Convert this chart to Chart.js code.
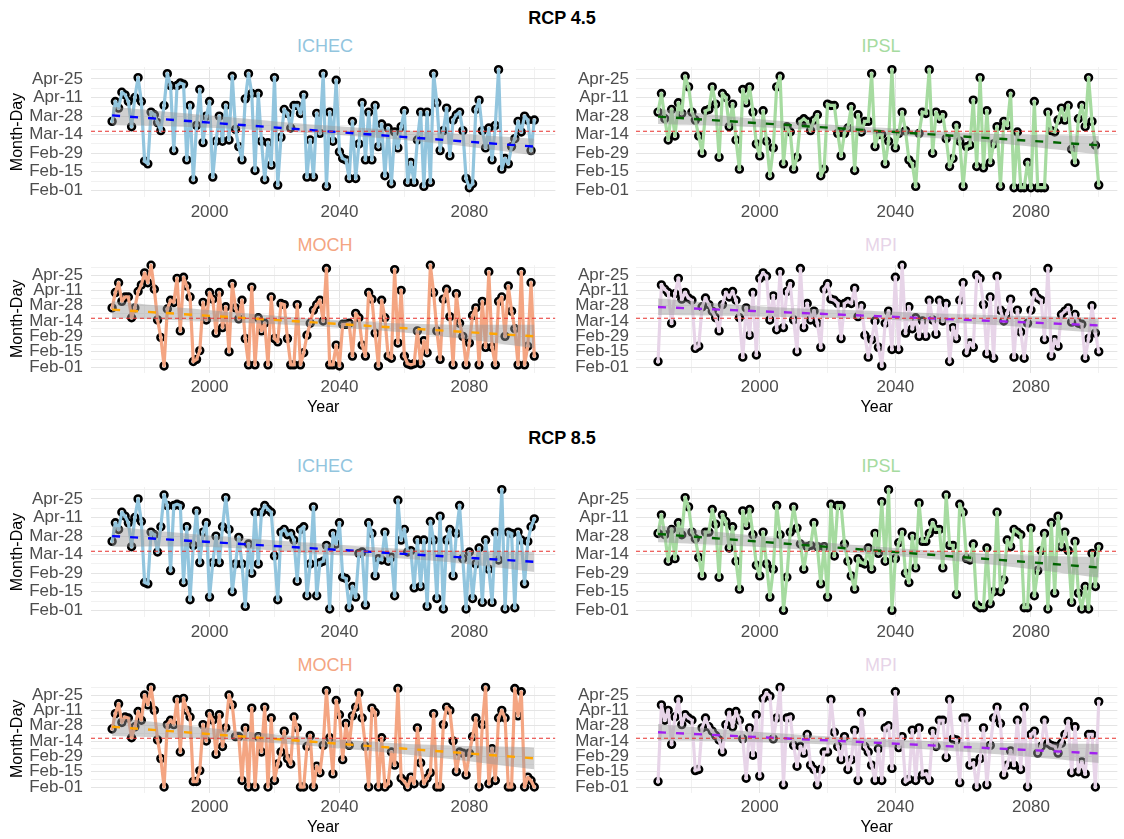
<!DOCTYPE html>
<html><head><meta charset="utf-8">
<script src="https://cdn.jsdelivr.net/npm/chart.js@4.4.0/dist/chart.umd.min.js"></script>
<style>
html,body{margin:0;padding:0;background:#fff;}
body{width:1124px;height:839px;position:relative;overflow:hidden;font-family:"Liberation Sans",Arial,sans-serif;}
.t{position:absolute;transform:translate(-50%,-50%);white-space:nowrap;line-height:1;}
canvas{position:absolute;}
</style></head><body>
<script>
// ---------- data ----------
const years = [1970,1971,1972,1973,1974,1975,1976,1977,1978,1979,1980,1981,1982,1983,1984,1985,1986,1987,1988,1989,1990,1991,1992,1993,1994,1995,1996,1997,1998,1999,2000,2001,2002,2003,2004,2005,2006,2007,2008,2009,2010,2011,2012,2013,2014,2015,2016,2017,2018,2019,2020,2021,2022,2023,2024,2025,2026,2027,2028,2029,2030,2031,2032,2033,2034,2035,2036,2037,2038,2039,2040,2041,2042,2043,2044,2045,2046,2047,2048,2049,2050,2051,2052,2053,2054,2055,2056,2057,2058,2059,2060,2061,2062,2063,2064,2065,2066,2067,2068,2069,2070,2071,2072,2073,2074,2075,2076,2077,2078,2079,2080,2081,2082,2083,2084,2085,2086,2087,2088,2089,2090,2091,2092,2093,2094,2095,2096,2097,2098,2099,2100];

// day-of-year values (Feb-01 = 32)
const ichec45 = [84,99,94,106,104,99,80,102,117,99,54,52,91,89,83,77,96,120,111,62,111,113,112,55,96,40,81,108,68,88,99,42,69,88,69,96,70,118,78,65,55,101,120,105,47,105,69,40,68,51,117,36,72,93,90,79,96,96,90,104,42,70,42,90,75,120,35,91,69,115,61,56,55,41,84,41,67,98,55,91,55,96,65,82,43,79,37,76,64,80,92,38,53,38,70,91,35,91,38,120,98,62,77,94,58,85,89,91,77,41,34,37,93,100,77,64,79,55,81,123,48,56,52,65,71,84,76,88,85,62,85];
const ipsl45 = [91,105,86,70,93,73,98,90,118,110,91,85,73,60,92,93,110,97,57,105,102,80,97,70,48,108,98,110,91,67,58,92,69,43,64,110,118,52,80,76,48,57,84,86,84,77,85,89,43,48,97,96,96,75,58,75,79,95,47,89,76,84,84,120,65,74,74,52,69,123,64,75,91,77,55,52,35,75,91,90,123,60,91,86,89,71,50,56,81,69,35,65,66,100,50,117,49,92,53,67,80,35,84,81,105,34,76,34,34,53,34,99,34,34,34,91,77,76,85,94,85,96,63,53,86,96,80,117,84,66,36];
const moch45 = [86,100,109,92,96,96,77,86,101,107,118,109,125,103,75,59,33,85,93,91,113,65,114,106,96,37,39,47,91,75,100,94,63,100,68,87,46,108,86,76,93,58,34,105,34,77,65,72,34,96,58,55,90,89,58,34,34,89,34,45,61,72,84,89,93,74,122,34,34,52,33,71,71,72,42,81,77,52,42,100,94,63,33,93,77,42,40,121,54,102,42,35,34,35,65,35,56,45,125,100,65,39,94,103,78,34,99,72,60,34,54,79,86,34,92,50,119,50,34,92,96,60,106,83,67,34,119,34,51,109,42];
const mpi45 = [37,107,103,100,72,99,113,94,100,95,93,49,51,87,95,89,83,77,65,89,100,96,101,93,77,41,86,61,100,43,113,118,115,75,97,66,119,68,101,108,75,46,122,68,90,75,83,72,50,103,108,94,93,90,58,90,92,90,104,78,88,61,41,57,74,50,33,72,83,48,114,48,125,63,87,67,77,60,74,60,93,75,62,93,74,90,37,68,58,93,109,45,54,50,116,113,89,44,96,40,115,84,74,81,94,41,84,64,40,72,84,100,95,93,57,122,42,57,51,80,83,86,73,80,72,71,40,58,88,63,46];
const ichec85 = [84,98,93,106,103,98,80,102,116,99,53,52,91,89,76,95,119,111,62,111,112,111,53,95,40,81,107,68,91,98,42,68,88,68,95,117,93,46,67,87,67,35,82,60,106,67,106,111,108,106,73,40,91,93,89,90,85,54,93,95,43,67,110,43,68,69,81,33,90,82,98,57,56,34,50,42,75,76,36,98,90,58,71,70,91,69,72,43,115,85,93,76,77,49,85,50,85,35,99,85,41,103,33,85,93,58,90,111,71,33,76,41,67,79,38,85,63,38,91,70,123,33,91,90,34,91,85,52,84,95,101];
const ipsl85 = [90,104,89,69,93,71,98,89,117,110,91,86,72,58,91,91,108,97,57,104,99,79,95,69,48,107,96,108,89,66,58,91,67,42,63,111,89,32,57,91,110,94,82,63,80,81,98,80,52,80,42,112,73,111,111,82,69,58,48,71,68,67,79,63,90,75,114,69,123,32,71,83,91,60,53,88,64,113,84,84,90,98,93,93,64,119,81,81,44,112,106,71,70,82,36,34,34,79,37,46,106,46,55,85,80,93,91,89,34,34,94,43,62,77,90,33,98,45,103,80,91,77,38,84,45,33,50,33,75,50,80];
const moch85 = [85,99,108,91,96,95,77,87,101,93,116,107,123,102,75,58,32,89,93,89,112,64,113,102,96,37,37,47,89,74,99,93,62,98,69,86,116,107,78,78,38,86,32,104,32,78,64,105,32,95,38,53,64,83,58,53,96,86,32,32,69,79,32,51,45,70,120,77,44,111,98,57,90,70,97,105,118,95,69,32,104,100,32,77,32,35,64,52,122,40,37,32,41,35,86,54,35,40,45,99,32,32,89,105,102,74,46,64,63,43,63,78,95,32,89,123,35,67,38,95,102,95,32,32,122,97,119,32,41,38,32];
const mpi85 = [37,107,93,102,71,96,112,89,98,95,93,47,48,86,95,87,83,79,75,64,89,100,87,101,93,76,40,86,61,98,42,113,118,115,76,95,123,34,95,96,70,51,69,63,80,52,48,34,48,64,64,112,82,69,57,78,48,57,84,38,100,69,64,52,38,67,38,86,88,49,119,68,78,37,39,84,38,86,43,44,38,83,69,93,93,59,112,76,75,36,95,95,52,54,32,58,86,34,70,95,105,90,43,52,65,52,93,48,105,32,80,83,63,69,93,72,70,69,63,72,80,92,45,87,46,55,44,80,80,32,110];

// linear trend end values (at trendYears) and confidence band (at bandYears)
const trendYears = [1970, 2100];
const bandYears = [1970, 2002, 2035, 2068, 2100];
const trendIchec45 = [88.5, 65];   const lowIchec45 = [81.5, 79, 74.5, 68, 58.5];   const highIchec45 = [95, 88, 81, 76, 71];
const trendIpsl45  = [87.6, 66];   const lowIpsl45  = [82, 79.3, 74.3, 68, 59];     const highIpsl45  = [93.3, 85.3, 79.3, 74.6, 73];
const trendMoch45  = [84.4, 60];   const lowMoch45  = [76.8, 73.4, 68.7, 61.1, 49.4]; const highMoch45 = [92, 83.4, 75.7, 71.1, 70.6];
const trendMpi45   = [86.8, 70];   const lowMpi45   = [79.5, 78, 75.5, 70.5, 63];   const highMpi45   = [94.5, 87, 83, 79.5, 77];
const trendIchec85 = [88, 68.6];   const lowIchec85 = [80, 79.5, 74.3, 69.5, 61];   const highIchec85 = [95.2, 88, 82.3, 77.5, 76.2];
const trendIpsl85  = [89.6, 64.3]; const lowIpsl85  = [83.3, 79.4, 74, 66.6, 56.7]; const highIpsl85  = [95.9, 87.4, 80, 74.6, 71.9];
const trendMoch85  = [87, 58.2];   const lowMoch85  = [78.6, 75.3, 68.6, 59.5, 48.2]; const highMoch85 = [95.4, 85.3, 76.6, 70.5, 68.2];
const trendMpi85   = [82, 62.7];   const lowMpi85   = [74.4, 72.7, 68.8, 62.4, 54]; const highMpi85   = [89.6, 81.7, 75.8, 72.4, 71.4];

const referenceDay = 76.6;

// ticks
const yTickValues = [32,39,46,53,60,67,74,81,88,95,102,109,116,123];
const yTickLabels = {32:'Feb-01',46:'Feb-15',60:'Feb-29',74:'Mar-14',88:'Mar-28',102:'Apr-11',116:'Apr-25'};
const xTickValues = [1980,2000,2020,2040,2060,2080,2100];
const xTickLabels = {2000:'2000',2040:'2040',2080:'2080'};

const scenarioTitles = ['RCP 4.5', 'RCP 8.5'];
const modelNames = ['ICHEC','IPSL','MOCH','MPI'];
const modelColors = ['#92C5DE','#A6DBA0','#F4A582','#E7D4E8'];
const trendColors = ['#0000FF','#006400','#FFA500','#A020F0'];

// ---------- layout ----------
const FONT = '"Liberation Sans", Arial, sans-serif';
Chart.defaults.font.family = FONT;

function addText(txt, x, y, size, color, bold) {
  const d = document.createElement('div');
  d.className = 't';
  d.textContent = txt;
  d.style.left = x + 'px'; d.style.top = y + 'px';
  d.style.fontSize = size + 'px'; d.style.color = color;
  if (bold) d.style.fontWeight = 'bold';
  document.body.appendChild(d);
}
addText(scenarioTitles[0], 562, 18, 18, '#000', true);
addText(scenarioTitles[1], 562, 438, 18, '#000', true);

const panels = [
  {m:0,row:0,col:0,vals:ichec45,trend:trendIchec45,lo:lowIchec45,hi:highIchec45},
  {m:1,row:0,col:1,vals:ipsl45,trend:trendIpsl45,lo:lowIpsl45,hi:highIpsl45},
  {m:2,row:1,col:0,vals:moch45,trend:trendMoch45,lo:lowMoch45,hi:highMoch45},
  {m:3,row:1,col:1,vals:mpi45,trend:trendMpi45,lo:lowMpi45,hi:highMpi45},
  {m:0,row:2,col:0,vals:ichec85,trend:trendIchec85,lo:lowIchec85,hi:highIchec85},
  {m:1,row:2,col:1,vals:ipsl85,trend:trendIpsl85,lo:lowIpsl85,hi:highIpsl85},
  {m:2,row:3,col:0,vals:moch85,trend:trendMoch85,lo:lowMoch85,hi:highMoch85},
  {m:3,row:3,col:1,vals:mpi85,trend:trendMpi85,lo:lowMpi85,hi:highMpi85}
];

const rowTop = [57, 255, 477, 675];
const rowH = [173, 164, 173, 164];
const rowTitleY = [45.7, 245, 465.7, 665];
const xMin = 1963.5;

function zeroPad(s) { s.paddingTop = 0; s.paddingBottom = 0; s.paddingLeft = 0; s.paddingRight = 0; }

panels.forEach((p) => {
  const hasYear = (p.row === 1 || p.row === 3);
  const left = p.col === 0 ? 0 : 562;
  const W = 562, H = rowH[p.row];
  const yW = p.col === 0 ? 91 : 74;
  const xH = hasYear ? 46.5 : 33;
  const padTop = hasYear ? 10.2 : 10;
  const padRight = p.col === 0 ? 3 : 0;
  const xMax = p.col === 0 ? 2106.5 : 2105.5;

  addText(modelNames[p.m], p.col === 0 ? 325 : 881, rowTitleY[p.row], 18, modelColors[p.m], false);

  const cv = document.createElement('canvas');
  cv.width = W; cv.height = H;
  cv.style.left = left + 'px'; cv.style.top = rowTop[p.row] + 'px';
  cv.style.width = W + 'px'; cv.style.height = H + 'px';
  document.body.appendChild(cv);

  const series = years.map((yr, i) => ({x: yr, y: p.vals[i]}));
  const trendPts = trendYears.map((yr, i) => ({x: yr, y: p.trend[i]}));
  const hiPts = bandYears.map((yr, i) => ({x: yr, y: p.hi[i]}));
  const loPts = bandYears.map((yr, i) => ({x: yr, y: p.lo[i]}));

  new Chart(cv, {
    type: 'line',
    data: {
      datasets: [
        {data: [{x: xMin, y: referenceDay}, {x: xMax, y: referenceDay}], borderColor: '#E8322E', borderWidth: 1.1, borderDash: [4, 3], pointRadius: 0, order: 0},
        {data: trendPts, borderColor: trendColors[p.m], borderWidth: 2.4, borderDash: [8, 10], pointRadius: 0, order: 1},
        {data: hiPts, borderWidth: 0, borderColor: 'rgba(0,0,0,0)', backgroundColor: 'rgba(150,150,150,0.45)', fill: '+1', pointRadius: 0, tension: 0.4, order: 2},
        {data: loPts, borderWidth: 0, borderColor: 'rgba(0,0,0,0)', fill: false, pointRadius: 0, tension: 0.4, order: 2},
        {data: series, borderColor: modelColors[p.m], borderWidth: 3.2, borderJoinStyle: 'round', borderCapStyle: 'round', pointRadius: 0, order: 3, clip: 10},
        {data: series, showLine: false, pointRadius: 3.4, pointBorderWidth: 2.6, pointBorderColor: '#000', pointBackgroundColor: 'rgba(0,0,0,0)', order: 4, clip: 10}
      ]
    },
    options: {
      responsive: false, animation: false, devicePixelRatio: 1,
      layout: {padding: {top: padTop, right: padRight, left: 0, bottom: 0}},
      plugins: {legend: {display: false}, tooltip: {enabled: false}, title: {display: false}},
      scales: {
        x: {
          type: 'linear', min: xMin, max: xMax,
          afterBuildTicks: (a) => { a.ticks = xTickValues.map(v => ({value: v})); },
          afterFit: (s) => { s.height = xH; zeroPad(s); },
          border: {display: false},
          grid: {drawTicks: false, lineWidth: 1, color: (c) => (c.tick && xTickLabels[c.tick.value]) ? '#E4E4E4' : '#F1F1F1'},
          ticks: {callback: (v) => xTickLabels[v] || '', color: '#4D4D4D', font: {size: 17}, padding: 5, maxRotation: 0, autoSkip: false},
          title: {display: hasYear, text: 'Year', color: '#000', font: {size: 16}, padding: {top: 0, bottom: 1.5}}
        },
        y: {
          min: 27, max: 125,
          afterBuildTicks: (a) => { a.ticks = yTickValues.map(v => ({value: v})); },
          afterFit: (s) => { s.width = yW; zeroPad(s); },
          border: {display: false},
          grid: {drawTicks: false, lineWidth: 1, color: (c) => (c.tick && yTickLabels[c.tick.value]) ? '#E4E4E4' : '#F1F1F1'},
          ticks: {callback: (v) => yTickLabels[v] || '', color: '#4D4D4D', font: {size: 17}, padding: p.col === 0 ? 8 : 7, autoSkip: false},
          title: {display: p.col === 0, text: 'Month-Day', color: '#000', font: {size: 16}, padding: {top: 8, bottom: 0}}
        }
      }
    }
  });
});
</script>
</body></html>
